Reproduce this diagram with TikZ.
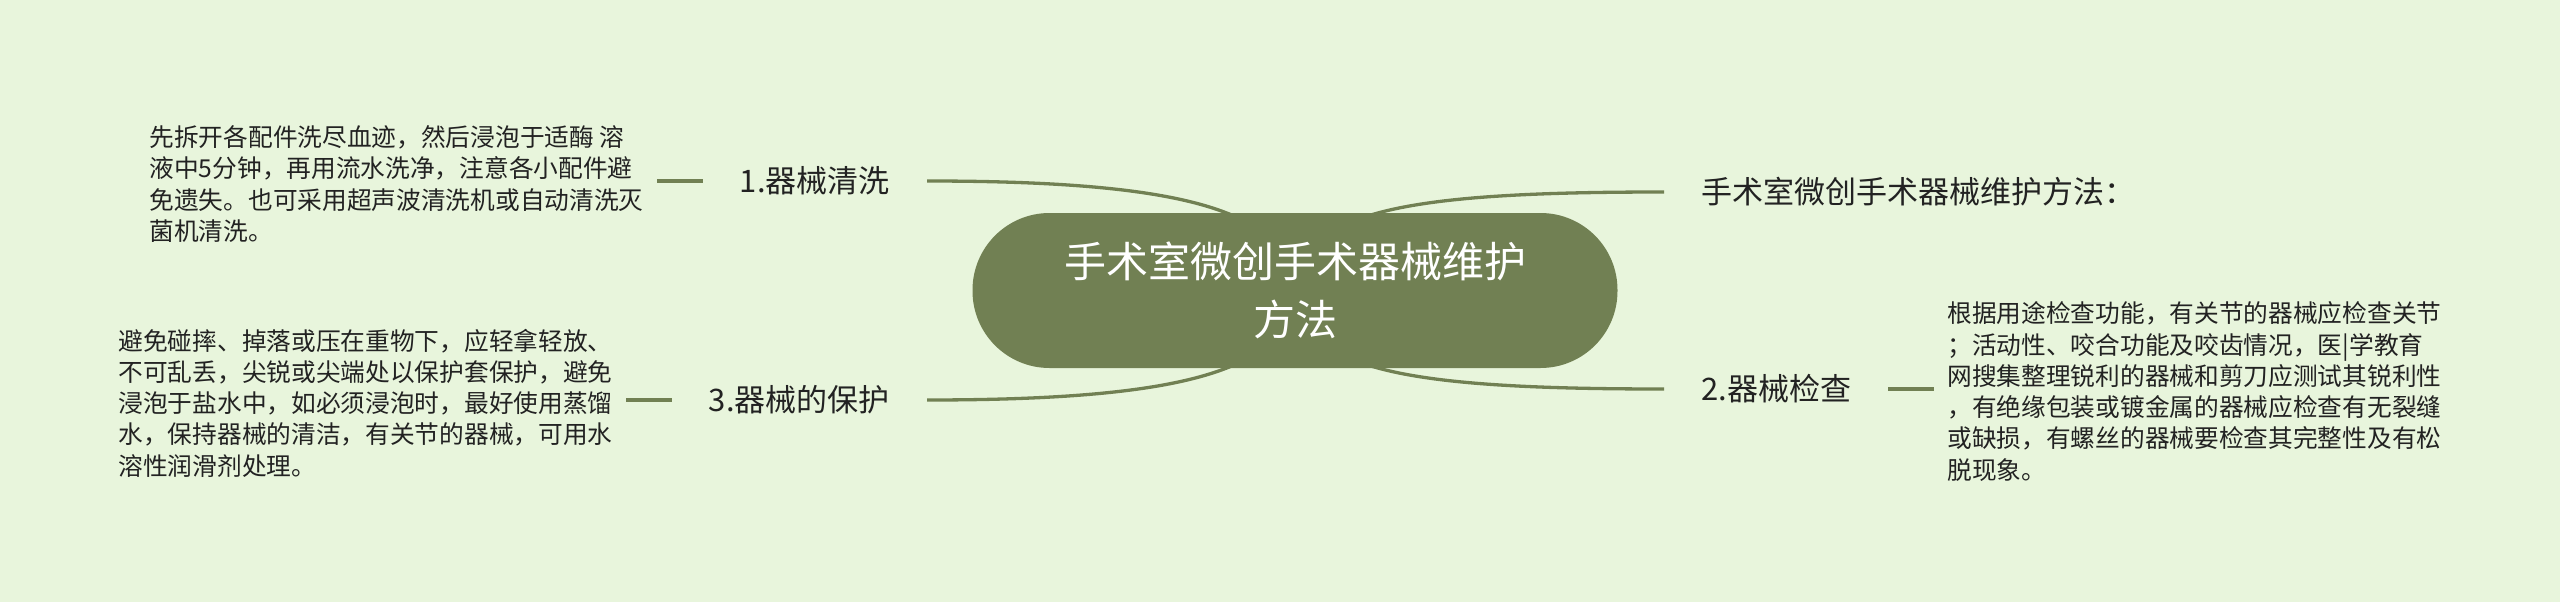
\documentclass[tikz,border=0pt]{standalone}
\usepackage{fontspec}
\newfontfamily\cjk{Noto Sans CJK SC}
\usetikzlibrary{calc}
\pgfdeclarelayer{back}
\pgfdeclarelayer{bg}
\pgfsetlayers{back,bg,main}
\definecolor{bgc}{HTML}{E8F5DC}
\definecolor{olive}{HTML}{718053}
\definecolor{txt}{HTML}{222222}
\begin{document}
\begin{tikzpicture}[x=1pt,y=-1pt,
  conn/.style={draw=olive,line width=3.3pt},
  rootbox/.style={fill=olive,rounded corners=77pt,minimum width=645pt,minimum height=155pt,inner sep=0pt,align=center,text=white,font=\cjk\fontsize{42}{58}\selectfont},
  branch/.style={inner xsep=37pt,inner ysep=0pt,text=txt,font=\cjk\fontsize{31}{36}\selectfont},
  leaf/.style={inner xsep=13pt,inner ysep=0pt,align=left,text=txt,font=\cjk\fontsize{24.7}{31.3}\selectfont}]
\useasboundingbox (0,0) rectangle (2560,602);
\begin{pgfonlayer}{back}
\fill[bgc] (0,0) rectangle (2560,602);
\end{pgfonlayer}

\node[rootbox] (root) at (1295,290.5) {手术室微创手术器械维护\\方法};

\node[branch,anchor=east] (b1) at (927,181) {1.器械清洗};
\node[branch,anchor=east] (b3) at (927,400) {3.器械的保护};
\node[branch,anchor=west] (t) at (1664,192) {手术室微创手术器械维护方法：};
\node[branch,anchor=west] (b2) at (1664,389) {2.器械检查};

\node[leaf,anchor=east] (l1) at ($(b1.west)+(-46,3)$) {先拆开各配件洗尽血迹，然后浸泡于适酶 溶\\液中5分钟，再用流水洗净，注意各小配件避\\免遗失。也可采用超声波清洗机或自动清洗灭\\菌机清洗。};
\node[leaf,anchor=east] (l3) at ($(b3.west)+(-46,3)$) {避免碰摔、掉落或压在重物下，应轻拿轻放、\\不可乱丢，尖锐或尖端处以保护套保护，避免\\浸泡于盐水中，如必须浸泡时，最好使用蒸馏\\水，保持器械的清洁，有关节的器械，可用水\\溶性润滑剂处理。};
\node[leaf,anchor=west] (l2) at ($(b2.east)+(46,2.5)$) {根据用途检查功能，有关节的器械应检查关节\\；活动性、咬合功能及咬齿情况，医|学教育\\网搜集整理锐利的器械和剪刀应测试其锐利性\\，有绝缘包装或镀金属的器械应检查有无裂缝\\或缺损，有螺丝的器械要检查其完整性及有松\\脱现象。};

\begin{pgfonlayer}{bg}
\draw[conn] (root.center) .. controls +(-5,-81) and +(253,0) .. (b1.east);
\draw[conn] (root.center) .. controls +(-5,81) and +(253,0) .. (b3.east);
\draw[conn] (root.center) .. controls +(5,-81) and +(-254,0) .. (t.west);
\draw[conn] (root.center) .. controls +(5,81) and +(-254,0) .. (b2.west);
\draw[conn] (b1.west) -- (b1.west -| l1.east);
\draw[conn] (b3.west) -- (b3.west -| l3.east);
\draw[conn] (b2.east) -- (b2.east -| l2.west);
\end{pgfonlayer}
\end{tikzpicture}
\end{document}
